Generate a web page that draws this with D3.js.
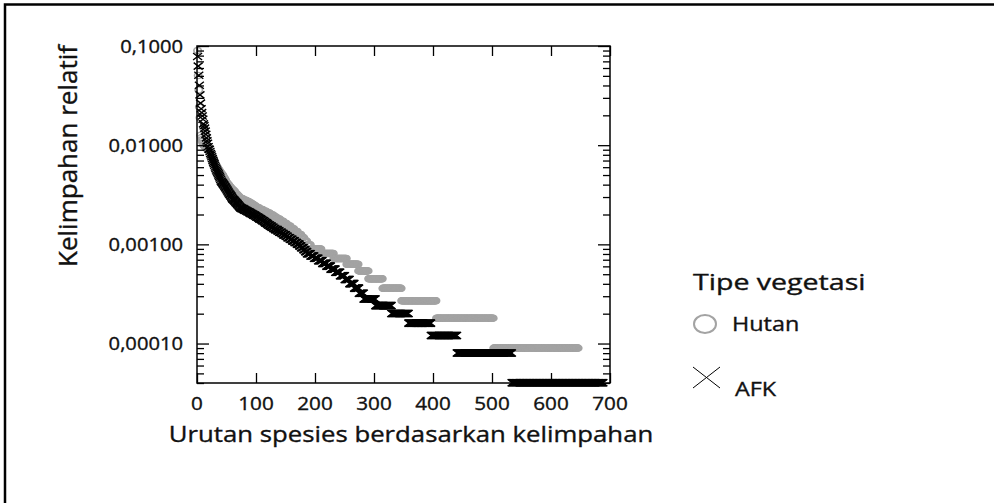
<!DOCTYPE html>
<html>
<head>
<meta charset="utf-8">
<script src="https://cdn.jsdelivr.net/npm/d3@7"></script>
<style>
body { margin: 0; background: #fff; }
text { font-family: "Open Sans", sans-serif; fill: #111; stroke: #111; stroke-width: 0.35px; }
</style>
</head>
<body>
<svg id="chart" width="994" height="503"></svg>
<script>
// individuals per species, top ranked species one by one
var hutanTop = [1000, 560, 400, 270, 210, 140, 132, 126, 121, 116,
  112, 110, 108, 106, 105, 103, 102, 101, 100, 99,
  97, 95, 92, 90, 87, 84, 82, 80, 77, 74,
  72, 70, 69, 67, 66, 64, 63, 62, 60, 59,
  58, 57, 56, 55, 53, 52, 51, 50, 48, 47,
  46, 45, 45, 44, 43, 42, 42, 41, 40, 40,
  39, 39, 38, 38, 37, 36, 36, 35, 35, 34, 34, 33, 33];
// rest of the ranks as [individuals, number of species]
var hutanRuns = [[32,5],[31,5],[30,5],[29,4],[28,4],[27,4],
  [26,5],[25,6],[24,6],[23,6],[22,6],
  [21,5],[20,6],[19,6],[18,6],[17,6],[16,6],[15,6],[14,6],[13,5],[12,5],
  [11,6],[10,18],[9,21],[8,22],[7,20],[6,17],[5,24],[4,32],[3,59],[2,97],[1,144]];

var afkTop = [1950, 1560, 1260, 1000, 800, 660, 580, 530, 490, 455,
  408, 390, 370, 345, 320, 295, 275, 260, 240, 228,
  225, 215, 205, 198, 190, 182, 175, 168, 162, 156,
  150, 145, 140, 136, 132, 128, 124, 120, 116, 112,
  108, 106, 104, 102, 100, 98, 96, 94, 92, 90,
  88, 86, 84, 82, 80, 79, 77, 76, 74, 72,
  71, 70, 69, 68, 67, 66, 65, 64, 63, 62, 61, 60, 59];
var afkRuns = [[58,2],[57,3],[56,2],[55,3],[54,2],[53,3],[52,2],[51,3],[50,2],[49,3],
  [48,2],[47,3],[46,2],[45,3],[44,2],[43,3],[42,2],[41,3],[40,2],[39,3],[38,3],[37,3],
  [36,3],[35,4],[34,3],[33,4],[32,3],[31,4],[30,3],[29,4],[28,4],[27,4],[26,4],[25,4],
  [24,3],[23,4],[22,3],[21,3],
  [20,6],[19,6],[18,7],[17,7],[16,7],[15,7],[14,8],[13,8],
  [12,8],[11,8],[10,8],[9,8],[8,8],
  [7,20],[6,27],[5,29],[4,38],[3,44],[2,93],[1,155]];

var xTicks = [0, 100, 200, 300, 400, 500, 600, 700];
var yTicks = [0.1, 0.01, 0.001, 0.0001];
var yTickLabels = ["0,1000", "0,01000", "0,00100", "0,00010"];
var legendTitle = "Tipe vegetasi";
var seriesNames = ["Hutan", "AFK"];

var grey = "#a3a3a3";

var svg = d3.select("#chart");

//outer frame
svg.append("rect")
  .attr("x", 5).attr("y", 4.5)
  .attr("width", 1100).attr("height", 600)
  .attr("fill", "none")
  .attr("stroke", "#000")
  .attr("stroke-width", 2.5);

var xScale = d3.scaleLinear().domain([0, 700]).range([197, 610]);
var yScale = d3.scaleLog().domain([4.0e-5, 0.1]).range([383, 46]);

//turn the runs into ranked relative abundance
function expand(top, runs) {
  var ks = top.slice();
  runs.forEach(function(r) {
    for (var i = 0; i < r[1]; i++) ks.push(r[0]);
  });
  var total = d3.sum(ks);
  return ks.map(function(k, i) { return {rank: i + 1, value: k / total}; });
}
var hutan = expand(hutanTop, hutanRuns);
var afk = expand(afkTop, afkRuns);

// the picture is stretched sideways, so text gets a horizontal scale
function label(x, y, s, size, anchor, sx) {
  return svg.append("text")
    .attr("transform", "translate(" + x + "," + y + ") scale(" + sx + ",1)")
    .attr("text-anchor", anchor)
    .style("font-size", size + "px")
    .text(s);
}

//points
svg.append("g").selectAll("path")
  .data(hutan)
  .enter().append("path")
  .attr("transform", function(d) {
    return "translate(" + xScale(d.rank) + "," + yScale(d.value) + ") scale(1.2,1)";
  })
  .attr("d", d3.symbol().type(d3.symbolCircle).size(Math.PI * 3.1 * 3.1))
  .attr("fill", "none")
  .attr("stroke", grey)
  .attr("stroke-width", 1.3);

svg.append("g").selectAll("path")
  .data(afk)
  .enter().append("path")
  .attr("transform", function(d) {
    return "translate(" + xScale(d.rank) + "," + yScale(d.value) + ")";
  })
  .attr("d", "M-4.5,-3.5L4.5,3.5M-4.5,3.5L4.5,-3.5")
  .attr("fill", "none")
  .attr("stroke", "#000")
  .attr("stroke-width", 1.4);

//axes frame
var x0 = xScale.range()[0], x1 = xScale.range()[1];
var y0 = yScale.range()[0], y1 = yScale.range()[1];
svg.append("rect")
  .attr("x", x0).attr("y", y1)
  .attr("width", x1 - x0).attr("height", y0 - y1)
  .attr("fill", "none")
  .attr("stroke", "#000")
  .attr("stroke-width", 1.5);

svg.append("g")
  .attr("transform", "translate(0," + y0 + ")")
  .call(d3.axisTop(xScale).tickValues(xTicks).tickSize(10).tickFormat(""))
  .call(function(g) { g.select(".domain").remove(); });
svg.append("g")
  .attr("transform", "translate(0," + y1 + ")")
  .call(d3.axisBottom(xScale).tickValues(xTicks).tickSize(10).tickFormat(""))
  .call(function(g) { g.select(".domain").remove(); });

var minor = yScale.ticks().filter(function(v) { return yTicks.indexOf(v) < 0; });
[[x0, d3.axisRight], [x1, d3.axisLeft]].forEach(function(a) {
  svg.append("g")
    .attr("transform", "translate(" + a[0] + ",0)")
    .call(a[1](yScale).tickValues(yTicks).tickSize(12).tickFormat(""))
    .call(function(g) { g.select(".domain").remove(); });
  svg.append("g")
    .attr("transform", "translate(" + a[0] + ",0)")
    .call(a[1](yScale).tickValues(minor).tickSize(7).tickFormat(""))
    .call(function(g) { g.select(".domain").remove(); });
});
svg.selectAll(".tick line").attr("stroke-width", 1.3);

//tick labels
xTicks.forEach(function(t) {
  label(xScale(t), 410, t, 18, "middle", 1.15);
});
yTicks.forEach(function(t, i) {
  label(183, yScale(t) + 6.5, yTickLabels[i], 18, "end", 1.12);
});

//axis titles
label(411, 442, "Urutan spesies berdasarkan kelimpahan", 22, "middle", 1.17);
svg.append("text")
  .attr("transform", "translate(77,156) rotate(-90)")
  .attr("text-anchor", "middle")
  .style("font-size", "26px")
  .text("Kelimpahan relatif");

//legend
label(693, 290, legendTitle, 21, "start", 1.36);
svg.append("ellipse")
  .attr("cx", 705).attr("cy", 324)
  .attr("rx", 11).attr("ry", 9)
  .attr("fill", "none")
  .attr("stroke", grey)
  .attr("stroke-width", 2);
label(732, 331, seriesNames[0], 20, "start", 1.17);
svg.append("path")
  .attr("d", "M693,367L720,388M693,388L720,367")
  .attr("stroke", "#000")
  .attr("stroke-width", 1);
label(735, 396, seriesNames[1], 20, "start", 1.17);
</script>
</body>
</html>
